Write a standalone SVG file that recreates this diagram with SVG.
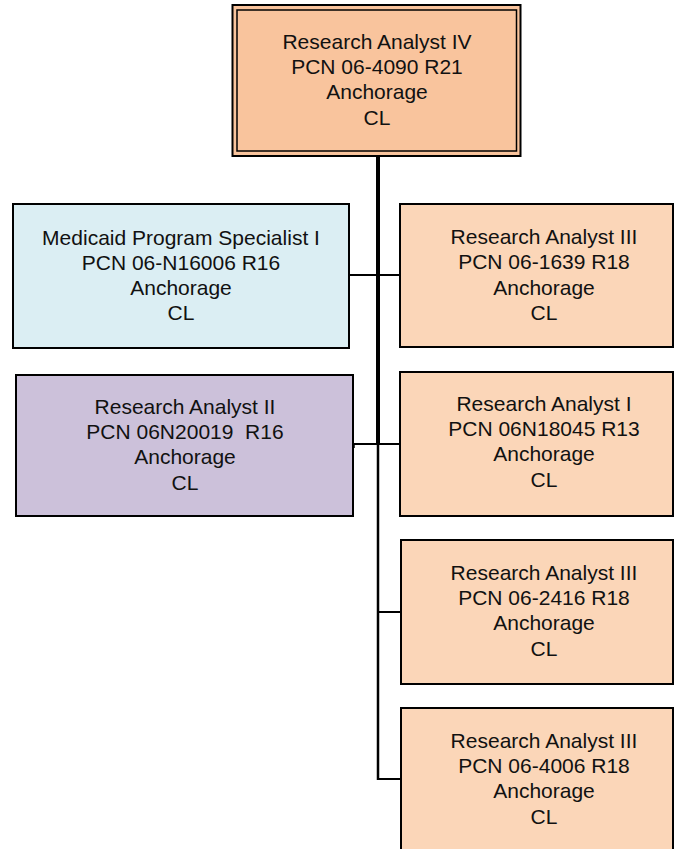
<svg xmlns="http://www.w3.org/2000/svg" width="675" height="849" viewBox="0 0 675 849">
<style>
  .box { stroke: #000; stroke-width: 2; }
  .top { fill: #F9C49D; }
  .ra { fill: #FBD6B8; }
  .blue { fill: #DBEEF3; }
  .purple { fill: #CCC1DA; }
  text { font-family: "Liberation Sans", Arial, sans-serif; font-size: 21px; fill: #111; text-anchor: middle; }
  .conn { stroke: #000; fill: none; }
</style>
<rect width="675" height="849" fill="#fff"/>
<g id="connectors">
  <line class="conn" x1="378" y1="156" x2="378" y2="445" stroke-width="4"/>
  <line class="conn" x1="378" y1="444" x2="378" y2="780" stroke-width="2.5"/>
  <line class="conn" x1="349" y1="275" x2="400" y2="275" stroke-width="2"/>
  <line class="conn" x1="353" y1="444" x2="378" y2="444" stroke-width="2" stroke="#333"/>
  <line class="conn" x1="354" y1="443" x2="354" y2="448" stroke-width="1.5"/>
  <line class="conn" x1="378" y1="444" x2="400" y2="444" stroke-width="2"/>
  <line class="conn" x1="377" y1="612" x2="401" y2="612" stroke-width="2"/>
  <line class="conn" x1="377" y1="779" x2="401" y2="779" stroke-width="2"/>
</g>
<g id="n_top">
  <rect class="box top" x="232.5" y="5" width="288" height="151"/>
  <rect x="237" y="10" width="279.5" height="141" fill="none" stroke="#000" stroke-width="1.5"/>
  <text x="377" y="49">Research Analyst IV</text>
  <text x="377" y="74">PCN 06-4090 R21</text>
  <text x="377" y="99">Anchorage</text>
  <text x="377" y="125">CL</text>
</g>
<g id="n_medicaid">
  <rect class="box blue" x="13" y="204" width="336" height="144"/>
  <text x="181" y="245">Medicaid Program Specialist I</text>
  <text x="181" y="270">PCN 06-N16006 R16</text>
  <text x="181" y="295">Anchorage</text>
  <text x="181" y="320">CL</text>
</g>
<g id="n_ra3_1639">
  <rect class="box ra" x="400" y="204" width="273" height="143"/>
  <text x="544" y="244">Research Analyst III</text>
  <text x="544" y="269">PCN 06-1639 R18</text>
  <text x="544" y="295">Anchorage</text>
  <text x="544" y="320">CL</text>
</g>
<g id="n_ra2">
  <rect class="box purple" x="16" y="375" width="337" height="141"/>
  <text x="185" y="414">Research Analyst II</text>
  <text x="185" y="439">PCN 06N20019&#160; R16</text>
  <text x="185" y="464">Anchorage</text>
  <text x="185" y="490">CL</text>
</g>
<g id="n_ra1">
  <rect class="box ra" x="400" y="372" width="273" height="144"/>
  <text x="544" y="411">Research Analyst I</text>
  <text x="544" y="436">PCN 06N18045 R13</text>
  <text x="544" y="461">Anchorage</text>
  <text x="544" y="487">CL</text>
</g>
<g id="n_ra3_2416">
  <rect class="box ra" x="401" y="540" width="272" height="144"/>
  <text x="544" y="580">Research Analyst III</text>
  <text x="544" y="605">PCN 06-2416 R18</text>
  <text x="544" y="630">Anchorage</text>
  <text x="544" y="656">CL</text>
</g>
<g id="n_ra3_4006">
  <rect class="box ra" x="401" y="708" width="272" height="160"/>
  <text x="544" y="748">Research Analyst III</text>
  <text x="544" y="773">PCN 06-4006 R18</text>
  <text x="544" y="798">Anchorage</text>
  <text x="544" y="824">CL</text>
</g>
</svg>
